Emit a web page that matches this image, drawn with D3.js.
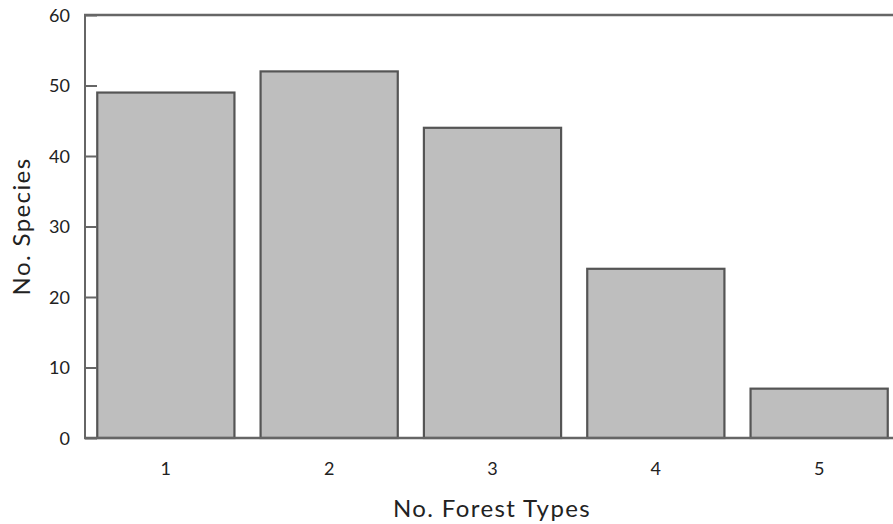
<!DOCTYPE html>
<html>
<head>
<meta charset="utf-8">
<script src="https://cdn.jsdelivr.net/npm/d3@7"></script>
<style>
  body { margin: 0; background: #fff; }
  text { font-family: Lato, "Open Sans", sans-serif; fill: #222; }
</style>
</head>
<body>
<svg width="893" height="524"></svg>
<script>
// forest types (x categories) and number of species per type
var forestTypes = ["1", "2", "3", "4", "5"];
var species = [49, 52, 44, 24, 7];
var yTicks = [0, 10, 20, 30, 40, 50, 60];

var svg = d3.select("svg");
// note: "top" is taken by window.top, so use other names
var plotLeft = 85, plotTop = 15, plotBottom = 438;

var y = d3.scaleLinear().domain([0, 60]).range([plotBottom, plotTop]);
var x = d3.scaleBand().domain(forestTypes).range([plotLeft, 900])
          .paddingInner(0.16).paddingOuter(0.075);

// bars
svg.selectAll("rect.bar")
   .data(species)
   .enter().append("rect")
   .attr("class", "bar")
   .attr("x", (d, i) => x(forestTypes[i]))
   .attr("y", (d) => y(d))
   .attr("width", x.bandwidth())
   .attr("height", (d) => plotBottom - y(d))
   .style("fill", "#bebebe")
   .style("stroke", "#555")
   .style("stroke-width", 2.2);

// y axis, ticks pointing inside
var yAxis = d3.axisRight(y).tickValues(yTicks).tickSize(12).tickFormat("");
var gy = svg.append("g").attr("transform", "translate(" + plotLeft + ",0)").call(yAxis);
gy.select(".domain").remove();
gy.selectAll(".tick line").style("stroke", "#666").style("stroke-width", 2);

svg.selectAll("text.ylab")
   .data(yTicks)
   .enter().append("text")
   .attr("class", "ylab")
   .attr("x", plotLeft - 15)
   .attr("y", (d) => y(d) + 6.5)
   .attr("text-anchor", "end")
   .style("font-size", "18px")
   .text((d) => d);

// frame lines: left, bottom, top
svg.append("line").attr("x1", plotLeft).attr("x2", plotLeft).attr("y1", plotTop).attr("y2", plotBottom)
   .style("stroke", "#666").style("stroke-width", 2);
svg.append("line").attr("x1", plotLeft - 1).attr("x2", 893).attr("y1", plotBottom).attr("y2", plotBottom)
   .style("stroke", "#666").style("stroke-width", 2.5);
svg.append("line").attr("x1", plotLeft - 1).attr("x2", 893).attr("y1", plotTop).attr("y2", plotTop)
   .style("stroke", "#666").style("stroke-width", 2.5);

// x labels
svg.selectAll("text.xlab")
   .data(forestTypes)
   .enter().append("text")
   .attr("class", "xlab")
   .attr("x", (d) => x(d) + x.bandwidth() / 2)
   .attr("y", 475)
   .attr("text-anchor", "middle")
   .style("font-size", "18px")
   .text((d) => d);

// axis titles
svg.append("text")
   .attr("x", 492).attr("y", 517)
   .attr("text-anchor", "middle")
   .style("font-size", "24px")
   .style("letter-spacing", "1.4px")
   .text("No. Forest Types");

svg.append("text")
   .attr("transform", "translate(30," + ((plotTop + plotBottom) / 2) + ") rotate(-90)")
   .attr("text-anchor", "middle")
   .style("font-size", "24px")
   .style("letter-spacing", "1.4px")
   .text("No. Species");
</script>
</body>
</html>
